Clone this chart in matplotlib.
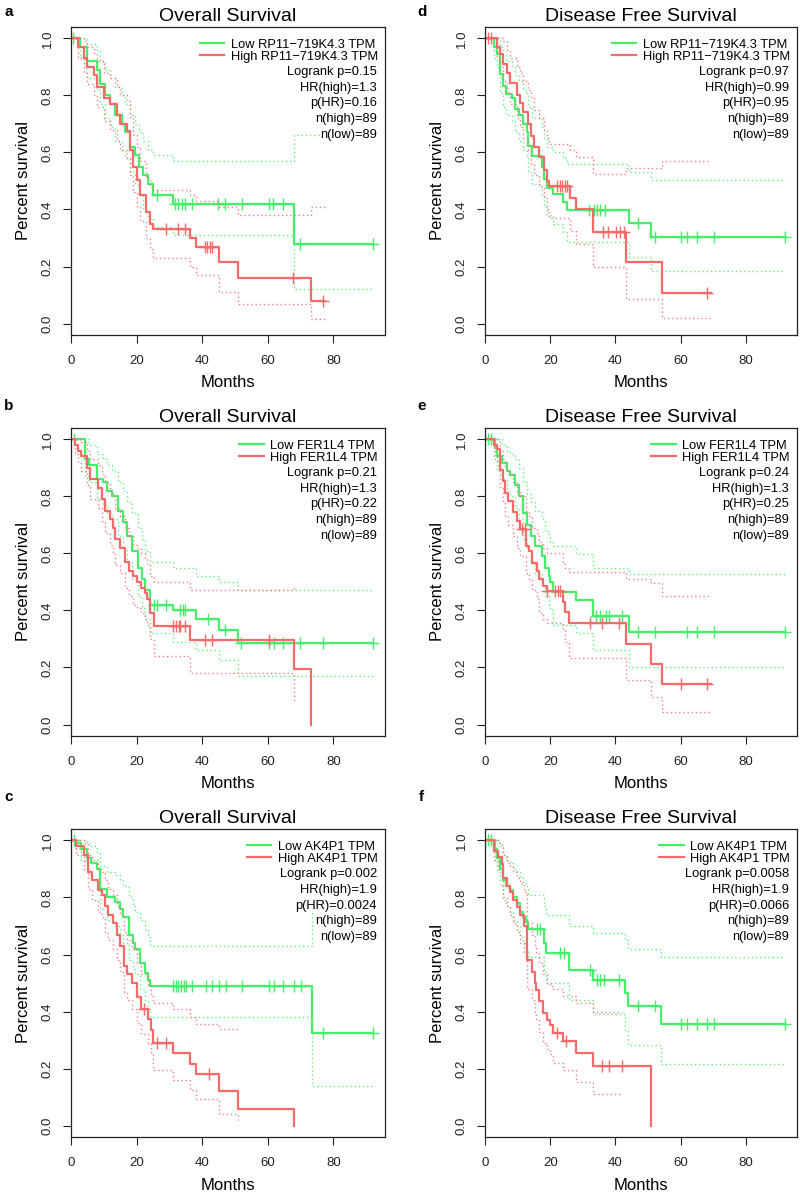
import numpy as np
import matplotlib
matplotlib.use("Agg")
import matplotlib.pyplot as plt
from matplotlib.lines import Line2D

plt.rcParams['font.family'] = ['Liberation Sans', 'DejaVu Sans']

GREEN = '#46ef6a'
RED = '#f76a6a'

# ---- panel a: Overall Survival, RP11-719K4.3 ----
a_low_t = [0, 2.7, 5, 7.8, 8.8, 10.4, 11.9, 13.4, 15.4, 16.5, 18, 19.5, 20.8, 22, 23.5, 25, 31, 68, 92]
a_low_s = [1, 0.97, 0.92, 0.89, 0.84, 0.80, 0.77, 0.73, 0.70, 0.67, 0.62, 0.59, 0.55, 0.52, 0.49, 0.45, 0.42, 0.28, 0.28]
a_low_up = [1, 1, 0.98, 0.96, 0.92, 0.89, 0.86, 0.83, 0.80, 0.77, 0.73, 0.70, 0.67, 0.64, 0.61, 0.59, 0.57, 0.66, 0.66]
a_low_lo = [1, 0.93, 0.86, 0.82, 0.77, 0.72, 0.69, 0.64, 0.61, 0.58, 0.53, 0.49, 0.45, 0.40, 0.37, 0.34, 0.31, 0.12, 0.12]
a_low_cens = [0.5, 26.1, 31.7, 32.7, 33.7, 34.8, 36.8, 44.9, 47.0, 52.0, 60.2, 61.7, 64.7, 69.8, 92]
a_high_t = [0, 2, 4, 5, 7, 8, 10, 12, 14, 15, 17, 18, 19, 20, 21, 23, 24, 25, 36.3, 38, 45, 51, 73, 77.4]
a_high_s = [1, 0.97, 0.93, 0.90, 0.87, 0.83, 0.79, 0.77, 0.73, 0.70, 0.675, 0.61, 0.55, 0.505, 0.45, 0.39, 0.35, 0.33, 0.30, 0.27, 0.215, 0.16, 0.08, 0.08]
a_high_up = [1, 1, 0.99, 0.97, 0.95, 0.92, 0.88, 0.86, 0.83, 0.80, 0.78, 0.72, 0.66, 0.62, 0.57, 0.51, 0.48, 0.47, 0.45, 0.43, 0.41, 0.38, 0.41, 0.41]
a_high_lo = [1, 0.93, 0.88, 0.84, 0.80, 0.76, 0.71, 0.68, 0.64, 0.61, 0.58, 0.52, 0.46, 0.41, 0.36, 0.30, 0.26, 0.23, 0.20, 0.17, 0.11, 0.07, 0.016, 0.016]
a_high_cens = [29, 32.7, 34.8, 40.9, 41.6, 42.4, 43.1, 67.8, 76.7]

# ---- panel b: Overall Survival, FER1L4 ----
b_low_t = [0, 4.3, 5.5, 7.8, 9.8, 11, 12.5, 14.4, 16, 17.2, 18.5, 20.5, 21.5, 22.5, 24.1, 31.2, 38, 45, 51, 92]
b_low_s = [1, 0.93, 0.91, 0.86, 0.85, 0.82, 0.80, 0.75, 0.71, 0.66, 0.61, 0.55, 0.51, 0.47, 0.42, 0.40, 0.37, 0.33, 0.285, 0.285]
b_low_up = [1, 1, 0.98, 0.95, 0.93, 0.91, 0.89, 0.85, 0.82, 0.78, 0.74, 0.69, 0.65, 0.61, 0.57, 0.55, 0.52, 0.50, 0.47, 0.47]
b_low_lo = [1, 0.87, 0.85, 0.79, 0.77, 0.74, 0.72, 0.66, 0.62, 0.57, 0.51, 0.45, 0.41, 0.37, 0.32, 0.29, 0.26, 0.225, 0.17, 0.17]
b_low_cens = [1, 25.4, 26.1, 28.9, 33.2, 34.0, 34.8, 41.9, 46.8, 51.8, 60.2, 62, 64.7, 69.8, 76.9, 92]
b_high_t = [0, 1.2, 2, 3, 5, 5.8, 8.3, 9.3, 10.4, 11.9, 12.9, 13.4, 15, 16.5, 17.6, 18.9, 20, 21.3, 22.5, 23.2, 24.1, 25.2, 36.3, 68, 73]
b_high_s = [1, 0.98, 0.96, 0.94, 0.90, 0.86, 0.83, 0.79, 0.75, 0.72, 0.69, 0.65, 0.62, 0.57, 0.54, 0.52, 0.50, 0.48, 0.46, 0.44, 0.39, 0.345, 0.295, 0.195, 0]
b_high_up = [1, 1, 1, 0.99, 0.96, 0.93, 0.91, 0.88, 0.85, 0.82, 0.80, 0.76, 0.73, 0.69, 0.66, 0.63, 0.62, 0.60, 0.58, 0.56, 0.52, 0.50, 0.47, 0.49]
b_high_lo = [1, 0.95, 0.92, 0.89, 0.84, 0.79, 0.76, 0.71, 0.67, 0.63, 0.60, 0.56, 0.53, 0.48, 0.45, 0.42, 0.41, 0.39, 0.37, 0.35, 0.30, 0.24, 0.18, 0.08]
b_high_cens = [31.2, 32.0, 32.8, 33.3, 34.8, 40.9, 43.1, 60.2]

# ---- panel c: Overall Survival, AK4P1 ----
c_low_t = [0, 1.6, 3, 5, 6, 7.8, 8.8, 11, 13.4, 15, 16, 17.6, 19, 19.5, 21, 22.5, 23.6, 24.2, 73.3, 92]
c_low_s = [1, 0.99, 0.97, 0.94, 0.92, 0.90, 0.83, 0.80, 0.785, 0.76, 0.73, 0.67, 0.64, 0.62, 0.57, 0.534, 0.51, 0.49, 0.325, 0.325]
c_low_up = [1, 1, 1, 0.99, 0.98, 0.96, 0.91, 0.89, 0.88, 0.86, 0.84, 0.80, 0.77, 0.75, 0.72, 0.69, 0.66, 0.63, 0.76, 0.76]
c_low_lo = [1, 0.97, 0.93, 0.89, 0.86, 0.84, 0.76, 0.72, 0.70, 0.67, 0.64, 0.58, 0.55, 0.53, 0.48, 0.44, 0.41, 0.38, 0.14, 0.14]
c_low_cens = [1, 31.2, 32.0, 32.7, 33.4, 34.3, 35.0, 37.0, 41.2, 43.1, 45.1, 47.2, 52.0, 60.2, 61.9, 64.7, 68.0, 70.1, 76.9, 92]
c_high_t = [0, 1.6, 4, 5.3, 6.3, 8.3, 9.3, 10.4, 11.4, 12.9, 13.9, 15, 16.2, 17.2, 18.5, 20, 21.2, 23.4, 24.3, 25, 31, 36.3, 38, 45, 51, 68]
c_high_s = [1, 0.98, 0.95, 0.89, 0.86, 0.825, 0.81, 0.77, 0.74, 0.71, 0.67, 0.63, 0.56, 0.53, 0.50, 0.45, 0.41, 0.375, 0.335, 0.29, 0.255, 0.215, 0.18, 0.12, 0.06, 0]
c_high_up = [1, 1, 0.99, 0.95, 0.93, 0.90, 0.89, 0.86, 0.83, 0.81, 0.77, 0.74, 0.68, 0.65, 0.62, 0.57, 0.53, 0.49, 0.46, 0.43, 0.41, 0.38, 0.356, 0.34, 0.34]
c_high_lo = [1, 0.95, 0.90, 0.83, 0.79, 0.75, 0.73, 0.68, 0.65, 0.62, 0.58, 0.54, 0.47, 0.44, 0.41, 0.36, 0.32, 0.29, 0.25, 0.195, 0.159, 0.124, 0.095, 0.042, 0.018]
c_high_cens = [22.3, 26.1, 29, 42.1]

# ---- panel d: Disease Free Survival, RP11-719K4.3 ----
d_low_t = [0, 2.8, 3.6, 4.6, 5.6, 6.5, 8.2, 9.2, 10.3, 11.8, 12.8, 13.3, 14.4, 17.4, 18, 19, 21, 24, 25, 44.1, 51, 92]
d_low_s = [1, 0.97, 0.944, 0.874, 0.834, 0.805, 0.79, 0.752, 0.73, 0.70, 0.67, 0.623, 0.587, 0.55, 0.506, 0.477, 0.453, 0.426, 0.398, 0.353, 0.304, 0.304]
d_low_up = [1, 1, 1, 0.97, 0.94, 0.92, 0.90, 0.87, 0.85, 0.82, 0.80, 0.76, 0.72, 0.69, 0.65, 0.62, 0.60, 0.58, 0.56, 0.53, 0.503, 0.503]
d_low_lo = [1, 0.93, 0.90, 0.81, 0.76, 0.73, 0.71, 0.67, 0.64, 0.61, 0.58, 0.53, 0.49, 0.45, 0.41, 0.38, 0.35, 0.32, 0.285, 0.234, 0.184, 0.184]
d_low_cens = [32.0, 33.3, 34.3, 35.4, 36.7, 46.9, 52.0, 60.0, 62.1, 65.1, 70.3, 92]
d_high_t = [0, 3.6, 4.6, 5.6, 6.9, 7.7, 9.7, 10.8, 11.8, 13.3, 14.0, 14.9, 16.7, 18.2, 19.0, 19.5, 26.0, 28.0, 33.0, 43.1, 54.2, 69.2]
d_high_s = [1, 0.97, 0.944, 0.91, 0.88, 0.842, 0.80, 0.774, 0.74, 0.70, 0.658, 0.62, 0.585, 0.54, 0.50, 0.482, 0.441, 0.403, 0.322, 0.215, 0.108, 0.108]
d_high_up = [1, 1, 1, 0.99, 0.96, 0.93, 0.90, 0.88, 0.85, 0.82, 0.79, 0.75, 0.72, 0.68, 0.65, 0.63, 0.61, 0.583, 0.523, 0.546, 0.57, 0.57]
d_high_lo = [1, 0.93, 0.90, 0.85, 0.81, 0.77, 0.72, 0.69, 0.65, 0.61, 0.56, 0.52, 0.48, 0.44, 0.40, 0.37, 0.324, 0.28, 0.199, 0.087, 0.02, 0.02]
d_high_cens = [0.8, 1.7, 22.0, 22.9, 23.6, 24.4, 25.1, 36.2, 37.6, 40.3, 41.3, 42.5, 68.2]

# ---- panel e: Disease Free Survival, FER1L4 ----
e_low_t = [0, 3.1, 3.6, 5.1, 6.7, 7.7, 9.2, 10.3, 11.6, 12.8, 14.0, 15.4, 17.4, 18.5, 19.5, 20.0, 21.0, 28.0, 33.0, 44.1, 92]
e_low_s = [1, 0.97, 0.94, 0.916, 0.89, 0.875, 0.84, 0.80, 0.74, 0.70, 0.66, 0.625, 0.59, 0.55, 0.52, 0.50, 0.465, 0.438, 0.379, 0.324, 0.324]
e_low_up = [1, 1, 1, 0.98, 0.96, 0.95, 0.93, 0.90, 0.85, 0.81, 0.78, 0.75, 0.72, 0.68, 0.66, 0.64, 0.627, 0.597, 0.55, 0.528, 0.528]
e_low_lo = [1, 0.93, 0.89, 0.86, 0.82, 0.80, 0.76, 0.72, 0.65, 0.61, 0.57, 0.53, 0.49, 0.45, 0.42, 0.40, 0.35, 0.32, 0.26, 0.20, 0.20]
e_low_cens = [0.8, 1.7, 34.2, 35.2, 37.2, 37.9, 42.0, 47, 52, 62.1, 65.1, 70.3, 92]
e_high_t = [0, 2.9, 3.6, 4.6, 5.6, 6.2, 7.0, 8.7, 9.7, 10.8, 12.6, 13.6, 14.4, 15.9, 16.7, 17.7, 19.0, 23.9, 24.6, 25.8, 43.1, 51.0, 54.2, 69.2]
e_high_s = [1, 0.98, 0.965, 0.893, 0.855, 0.812, 0.783, 0.744, 0.713, 0.684, 0.627, 0.607, 0.566, 0.537, 0.51, 0.484, 0.467, 0.431, 0.396, 0.355, 0.283, 0.211, 0.141, 0.141]
e_high_up = [1, 1, 1, 0.96, 0.93, 0.90, 0.88, 0.85, 0.82, 0.80, 0.75, 0.73, 0.69, 0.67, 0.64, 0.62, 0.60, 0.57, 0.55, 0.535, 0.51, 0.497, 0.45, 0.45]
e_high_lo = [1, 0.94, 0.92, 0.83, 0.78, 0.73, 0.70, 0.66, 0.62, 0.59, 0.53, 0.51, 0.47, 0.44, 0.39, 0.37, 0.355, 0.33, 0.29, 0.235, 0.156, 0.095, 0.044, 0.044]
e_high_cens = [11.3, 12.3, 19.1, 21.5, 22.3, 22.9, 32.1, 35.9, 41.0, 60.2, 68.2]

# ---- panel f: Disease Free Survival, AK4P1 ----
f_low_t = [0, 3.1, 3.6, 4.6, 5.6, 6.5, 7.7, 8.7, 9.7, 10.8, 11.8, 12.6, 13.3, 18.2, 18.8, 25.8, 33.0, 42.8, 43.9, 54.1, 92]
f_low_s = [1, 0.97, 0.94, 0.90, 0.86, 0.84, 0.826, 0.80, 0.78, 0.75, 0.73, 0.715, 0.69, 0.64, 0.607, 0.545, 0.51, 0.464, 0.418, 0.357, 0.357]
f_low_up = [1, 1, 1, 0.98, 0.95, 0.93, 0.92, 0.90, 0.89, 0.87, 0.85, 0.84, 0.81, 0.77, 0.74, 0.70, 0.677, 0.65, 0.62, 0.59, 0.59]
f_low_lo = [1, 0.93, 0.89, 0.84, 0.79, 0.77, 0.75, 0.72, 0.70, 0.66, 0.64, 0.62, 0.59, 0.54, 0.50, 0.44, 0.39, 0.337, 0.284, 0.217, 0.217]
f_low_cens = [0.9, 1.7, 15.9, 17.0, 22.9, 24.1, 32.1, 34.3, 35.4, 36.6, 41.0, 46.9, 52.0, 60.0, 62.1, 65.1, 68.2, 70.3, 92]
f_high_t = [0, 2.9, 4.1, 5.1, 5.6, 6.7, 7.7, 8.7, 9.7, 10.8, 12.0, 13.0, 14.4, 15.2, 15.7, 16.7, 17.7, 19.0, 19.8, 20.8, 23.9, 27.9, 33.0, 42.0, 51.0]
f_high_s = [1, 0.964, 0.943, 0.918, 0.868, 0.84, 0.82, 0.79, 0.767, 0.737, 0.70, 0.58, 0.54, 0.50, 0.477, 0.437, 0.395, 0.371, 0.353, 0.326, 0.297, 0.255, 0.209, 0.209, 0]
f_high_up = [1, 1, 0.99, 0.98, 0.95, 0.92, 0.91, 0.89, 0.87, 0.85, 0.82, 0.71, 0.67, 0.63, 0.61, 0.57, 0.53, 0.50, 0.49, 0.48, 0.455, 0.43, 0.40, 0.40]
f_high_lo = [1, 0.93, 0.90, 0.86, 0.80, 0.77, 0.74, 0.71, 0.68, 0.64, 0.61, 0.48, 0.44, 0.40, 0.37, 0.33, 0.29, 0.27, 0.25, 0.22, 0.194, 0.153, 0.112, 0.112]
f_high_cens = [22.0, 24.9, 35.9, 38.0, 42.0]

genes = ["RP11\u2212719K4.3", "FER1L4", "AK4P1"]
stats = {
    'a': ["Logrank p=0.15", "HR(high)=1.3", "p(HR)=0.16", "n(high)=89", "n(low)=89"],
    'b': ["Logrank p=0.21", "HR(high)=1.3", "p(HR)=0.22", "n(high)=89", "n(low)=89"],
    'c': ["Logrank p=0.002", "HR(high)=1.9", "p(HR)=0.0024", "n(high)=89", "n(low)=89"],
    'd': ["Logrank p=0.97", "HR(high)=0.99", "p(HR)=0.95", "n(high)=89", "n(low)=89"],
    'e': ["Logrank p=0.24", "HR(high)=1.3", "p(HR)=0.25", "n(high)=89", "n(low)=89"],
    'f': ["Logrank p=0.0058", "HR(high)=1.9", "p(HR)=0.0066", "n(high)=89", "n(low)=89"],
}

panels = [
    ('a', "Overall Survival", genes[0], (a_low_t, a_low_s, a_low_up, a_low_lo, a_low_cens),
     (a_high_t, a_high_s, a_high_up, a_high_lo, a_high_cens), [0.08875, 0.7190]),
    ('b', "Overall Survival", genes[1], (b_low_t, b_low_s, b_low_up, b_low_lo, b_low_cens),
     (b_high_t, b_high_s, b_high_up, b_high_lo, b_high_cens), [0.08875, 0.3826]),
    ('c', "Overall Survival", genes[2], (c_low_t, c_low_s, c_low_up, c_low_lo, c_low_cens),
     (c_high_t, c_high_s, c_high_up, c_high_lo, c_high_cens), [0.08875, 0.0461]),
    ('d', "Disease Free Survival", genes[0], (d_low_t, d_low_s, d_low_up, d_low_lo, d_low_cens),
     (d_high_t, d_high_s, d_high_up, d_high_lo, d_high_cens), [0.60625, 0.7190]),
    ('e', "Disease Free Survival", genes[1], (e_low_t, e_low_s, e_low_up, e_low_lo, e_low_cens),
     (e_high_t, e_high_s, e_high_up, e_high_lo, e_high_cens), [0.60625, 0.3826]),
    ('f', "Disease Free Survival", genes[2], (f_low_t, f_low_s, f_low_up, f_low_lo, f_low_cens),
     (f_high_t, f_high_s, f_high_up, f_high_lo, f_high_cens), [0.60625, 0.0461]),
]


def draw_group(ax, grp, color):
    t, s, up, lo, cens = grp
    # confidence bands stop where the estimate stops being defined
    ax.step(t[:len(up)], up, where='post', color=color, lw=1, ls=(0, (1, 2)), alpha=0.85)
    ax.step(t[:len(lo)], lo, where='post', color=color, lw=1, ls=(0, (1, 2)), alpha=0.85)
    ax.step(t, s, where='post', color=color, lw=1.6)
    idx = np.searchsorted(t, cens, side='right') - 1
    ax.plot(cens, np.asarray(s)[idx], ls='none', marker='+', ms=8, mew=1, color=color)


fig = plt.figure(figsize=(8, 11.92), dpi=100)

for letter, title, gene, low, high, (x0, y0) in panels:
    w = 0.3925 if x0 < 0.5 else 0.39
    ax = fig.add_axes([x0, y0, w, 0.2584])
    draw_group(ax, low, GREEN)
    draw_group(ax, high, RED)

    ax.set_xlim(0, 95.7)
    ax.set_ylim(-0.04, 1.04)
    ax.set_xticks([0, 20, 40, 60, 80])
    ax.set_yticks([0, 0.2, 0.4, 0.6, 0.8, 1.0])
    ax.set_yticklabels(["0.0", "0.2", "0.4", "0.6", "0.8", "1.0"])
    ax.tick_params(direction='out', length=5.5, width=0.8, labelsize=9.5, colors='#222222')
    ax.tick_params(axis='x', pad=9)
    ax.tick_params(axis='y', pad=7, labelrotation=90)
    for lab in ax.get_yticklabels():
        lab.set_va('center')
    for sp in ax.spines.values():
        sp.set_linewidth(0.9)
        sp.set_color('#222222')

    ax.set_title(title, fontsize=14, pad=4)
    ax.set_xlabel("Months", fontsize=12, labelpad=6)
    ax.set_ylabel("Percent survival", fontsize=12, labelpad=8)

    handles = [Line2D([], [], color=GREEN, lw=1.6), Line2D([], [], color=RED, lw=1.6)]
    leg = ax.legend(handles, ["Low %s TPM" % gene, "High %s TPM" % gene],
                    loc='upper right', bbox_to_anchor=(0.985, 0.97), fontsize=9.3,
                    frameon=True, facecolor='white', edgecolor='none', framealpha=1,
                    borderpad=0.2, labelspacing=0.0, handlelength=1.9,
                    handletextpad=0.5, borderaxespad=0)
    leg.set_zorder(5)
    for i, line in enumerate(stats[letter]):
        ax.text(0.975, 1 - (44.7 + 15.9 * i) / 308, line, transform=ax.transAxes,
                ha='right', va='center', fontsize=9.3, zorder=6,
                bbox=dict(facecolor='white', edgecolor='none', pad=0.3))

    lx = 0.011 if x0 < 0.5 else 0.527
    ly = {'a': 0.990, 'd': 0.990, 'b': 0.659, 'e': 0.659, 'c': 0.331, 'f': 0.331}[letter]
    fig.text(lx, ly, letter, fontsize=11, fontweight='bold', ha='center', va='center')

fig.savefig("out.png", dpi=100)
